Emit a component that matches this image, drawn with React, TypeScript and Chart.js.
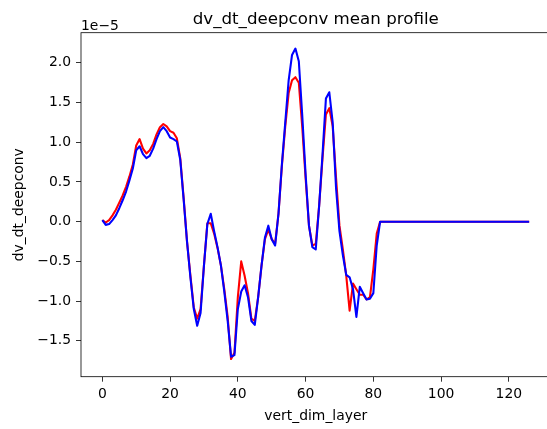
import { useEffect, useRef } from "react";
import { Chart, registerables } from "chart.js";

Chart.register(...registerables);

const TITLE = "dv_dt_deepconv mean profile";
const X_LABEL = "vert_dim_layer";
const Y_LABEL = "dv_dt_deepconv";
const OFFSET_LABEL = "1e\u22125";

const X_TICKS = [0, 20, 40, 60, 80, 100, 120];
const Y_TICKS = [-1.5, -1.0, -0.5, 0.0, 0.5, 1.0, 1.5, 2.0];

// values in units of 1e-5, layer 0..126
const RED = [
  0.02, -0.01, 0.02, 0.08, 0.15, 0.24, 0.33, 0.44, 0.57, 0.72,
  0.96, 1.04, 0.92, 0.86, 0.9, 0.98, 1.1, 1.19, 1.23, 1.2,
  1.14, 1.12, 1.05, 0.8, 0.3, -0.25, -0.68, -1.08, -1.22, -1.1,
  -0.55, -0.02, -0.02, -0.15, -0.33, -0.55, -0.85, -1.2, -1.73, -1.65,
  -0.95, -0.5, -0.68, -0.9, -1.22, -1.25, -0.95, -0.55, -0.22, -0.1,
  -0.22, -0.28, 0.1, 0.7, 1.2, 1.62, 1.78, 1.82, 1.75, 1.2,
  0.55, -0.05, -0.3, -0.28, 0.2, 0.8, 1.35, 1.43, 1.2, 0.55,
  -0.05, -0.35, -0.68, -1.12, -0.78, -0.85, -0.92, -0.92, -0.98, -0.95,
  -0.6, -0.15, 0.0, 0, 0, 0, 0, 0, 0, 0,
  0, 0, 0, 0, 0, 0, 0, 0, 0, 0,
  0, 0, 0, 0, 0, 0, 0, 0, 0, 0,
  0, 0, 0, 0, 0, 0, 0, 0, 0, 0,
  0, 0, 0, 0, 0, 0, 0,
];

const BLUE = [
  0.02, -0.04, -0.03, 0.02, 0.08, 0.17, 0.27, 0.38, 0.52, 0.67,
  0.9, 0.95, 0.85, 0.8, 0.83, 0.92, 1.04, 1.14, 1.19, 1.14,
  1.06, 1.04, 1.01, 0.78, 0.28, -0.25, -0.7, -1.1, -1.31, -1.15,
  -0.55, -0.03, 0.1, -0.12, -0.32, -0.55, -0.88, -1.25, -1.7, -1.68,
  -1.1, -0.88, -0.8, -0.95, -1.25, -1.3, -0.95, -0.55, -0.2, -0.05,
  -0.22, -0.3, 0.1, 0.72, 1.25, 1.78, 2.1, 2.18, 2.02, 1.35,
  0.6, -0.05, -0.32, -0.35, 0.2, 0.85, 1.55, 1.63, 1.25, 0.42,
  -0.12, -0.42, -0.67, -0.7, -0.85, -1.2, -0.82, -0.9, -0.98, -0.97,
  -0.9, -0.3, 0.0, 0, 0, 0, 0, 0, 0, 0,
  0, 0, 0, 0, 0, 0, 0, 0, 0, 0,
  0, 0, 0, 0, 0, 0, 0, 0, 0, 0,
  0, 0, 0, 0, 0, 0, 0, 0, 0, 0,
  0, 0, 0, 0, 0, 0, 0,
];

const LAYERS = RED.map((_, i) => i);

const FONT = "'DejaVu Sans', sans-serif";

export default function App() {
  const ref = useRef<HTMLCanvasElement | null>(null);

  useEffect(() => {
    document.body.style.margin = "0";
    const canvas = ref.current;
    if (!canvas) return;

    const decor = {
      id: "decor",
      afterDraw(chart: any) {
        const { ctx, chartArea } = chart;
        const { left, right, top, bottom } = chartArea;
        ctx.save();
        ctx.strokeStyle = "#000";
        ctx.lineWidth = 0.8;
        ctx.strokeRect(left, top, right - left, bottom - top);
        ctx.fillStyle = "#000";
        ctx.font = `16.67px ${FONT}`;
        ctx.textAlign = "center";
        ctx.textBaseline = "alphabetic";
        ctx.fillText(TITLE, (left + right) / 2, top - 8.3);
        ctx.font = `13.9px ${FONT}`;
        ctx.textAlign = "left";
        ctx.fillText(OFFSET_LABEL, left, top - 3.2);
        ctx.textAlign = "center";
        ctx.fillText(X_LABEL, (left + right) / 2, 419.5);
        ctx.translate(23, (top + bottom) / 2);
        ctx.rotate(-Math.PI / 2);
        ctx.fillText(Y_LABEL, 0, 0);
        ctx.restore();
      },
    };

    const chart = new Chart(canvas, {
      type: "line",
      data: {
        datasets: [
          {
            data: LAYERS.map((x, i) => ({ x, y: RED[i] })),
            borderColor: "#ff0000",
            borderWidth: 2.08,
            pointRadius: 0,
            tension: 0,
            borderJoinStyle: "round",
            fill: false,
            order: 1,
          },
          {
            data: LAYERS.map((x, i) => ({ x, y: BLUE[i] })),
            borderColor: "#0000ff",
            borderWidth: 2.08,
            pointRadius: 0,
            tension: 0,
            borderJoinStyle: "round",
            fill: false,
            order: 0,
          },
        ],
      },
      options: {
        animation: false,
        responsive: false,
        devicePixelRatio: 1,
        layout: { padding: { left: 0, top: 32.7, right: 9.5, bottom: 0 } },
        plugins: {
          legend: { display: false },
          title: { display: false },
          tooltip: { enabled: false },
        },
        scales: {
          x: {
            type: "linear",
            min: -6.3,
            max: 132.3,
            afterBuildTicks: (s: any) => {
              s.ticks = X_TICKS.map((v) => ({ value: v }));
            },
            afterFit: (s: any) => {
              s.height = 429 - 376.7;
            },
            grid: {
              drawOnChartArea: false,
              drawTicks: true,
              tickLength: 5,
              color: "#000",
              lineWidth: 0.8,
            },
            border: { display: false },
            ticks: {
              color: "#000",
              font: { family: FONT, size: 13.9 },
              padding: 4,
              maxRotation: 0,
              autoSkip: false,
              callback: (v: any) => String(v),
            },
          },
          y: {
            type: "linear",
            min: -1.952,
            max: 2.38,
            afterBuildTicks: (s: any) => {
              s.ticks = Y_TICKS.map((v) => ({ value: v }));
            },
            afterFit: (s: any) => {
              s.width = 81;
            },
            grid: {
              drawOnChartArea: false,
              drawTicks: true,
              tickLength: 5,
              color: "#000",
              lineWidth: 0.8,
            },
            border: { display: false },
            ticks: {
              color: "#000",
              font: { family: FONT, size: 13.9 },
              padding: 5,
              autoSkip: false,
              callback: (v: any) => Number(v).toFixed(1).replace("-", "\u2212"),
            },
          },
        },
      },
      plugins: [decor],
    });

    return () => chart.destroy();
  }, []);

  return (
    <div style={{ width: 547, height: 429, overflow: "hidden", position: "relative" }}>
      <canvas ref={ref} width={560} height={429} style={{ display: "block" }} />
    </div>
  );
}
